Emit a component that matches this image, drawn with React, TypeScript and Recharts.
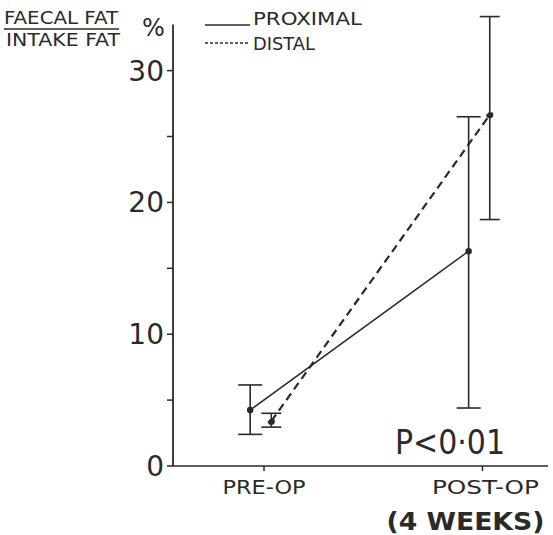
import { LineChart, Line, XAxis, YAxis, ErrorBar, ReferenceLine } from 'recharts';

const stages = ['PRE-OP', 'POST-OP'];
const stageNotes = ['', '(4 WEEKS)'];
const stagePos = [1, 4];

const proximalMean = [4.25, 16.3];
const proximalLow = [2.4, 4.4];
const proximalHigh = [6.15, 26.5];

const distalMean = [3.4, 26.65];
const distalLow = [2.95, 18.7];
const distalHigh = [4.0, 34.1];

const yTicks = [0, 5, 10, 15, 20, 25, 30];

const INK = '#2a2a2a';
const FONT = '"DejaVu Sans", "Liberation Sans", sans-serif';

function buildSeries(mean: number[], low: number[], high: number[], offset: number) {
  return stages.map((s, i) => ({
    stage: s,
    x: stagePos[i] + offset,
    value: mean[i],
    err: [mean[i] - low[i], high[i] - mean[i]],
  }));
}

const proximalData = buildSeries(proximalMean, proximalLow, proximalHigh, -0.19);
const distalData = buildSeries(distalMean, distalLow, distalHigh, 0.1);

function StageTick(props: any) {
  const { x, y, payload } = props;
  const i = stagePos.indexOf(payload.value);
  if (i < 0) return null;
  const w = stages[i].length > 6 ? 107 : 83;
  return (
    <g fontFamily={FONT} fill={INK}>
      <text x={x + (i ? 3 : 0)} y={y + 21} textAnchor="middle" fontSize={19} textLength={w} lengthAdjust="spacingAndGlyphs">
        {stages[i]}
      </text>
      {stageNotes[i] && (
        <text x={x - 17} y={y + 57} textAnchor="middle" fontSize={25} fontWeight="bold" textLength={158} lengthAdjust="spacingAndGlyphs">
          {stageNotes[i]}
        </text>
      )}
    </g>
  );
}

export default function App() {
  return (
    <div style={{ position: 'absolute', left: 0, top: 0, width: 553, height: 535, background: '#fff' }}>
      <LineChart width={553} height={535} margin={{ top: 10, right: 5, bottom: 0, left: 0 }}>
        <XAxis
          type="number"
          dataKey="x"
          domain={[-0.25, 4.9]}
          ticks={stagePos}
          tick={<StageTick />}
          tickSize={5}
          height={69}
          stroke={INK}
          strokeWidth={1.5}
          allowDataOverflow
        />
        <YAxis
          type="number"
          domain={[0, 34.6]}
          ticks={yTicks}
          width={173}
          axisLine={false}
          tickSize={6}
          tickMargin={3}
          tickLine={{ stroke: INK, strokeWidth: 1.5 }}
          tickFormatter={(v: number) => (v % 10 === 0 ? String(v) : '')}
          tick={{ fontFamily: FONT, fontSize: 28, fill: INK }}
          allowDataOverflow
        />
        <ReferenceLine
          segment={[{ x: -0.25, y: 0 }, { x: -0.25, y: 33.5 }]}
          stroke={INK}
          strokeWidth={1.8}
          ifOverflow="visible"
        />
        <Line
          data={proximalData}
          dataKey="value"
          stroke={INK}
          strokeWidth={1.5}
          dot={{ r: 2.5, fill: INK, stroke: INK }}
          isAnimationActive={false}
        >
          <ErrorBar dataKey="err" direction="y" width={12} stroke={INK} strokeWidth={1.6} />
        </Line>
        <Line
          data={distalData}
          dataKey="value"
          stroke={INK}
          strokeWidth={2.2}
          strokeDasharray="8 5"
          dot={{ r: 2.5, fill: INK, stroke: INK }}
          isAnimationActive={false}
        >
          <ErrorBar dataKey="err" direction="y" width={10} stroke={INK} strokeWidth={1.6} />
        </Line>
      </LineChart>
      <svg width={553} height={535} style={{ position: 'absolute', left: 0, top: 0, pointerEvents: 'none' }}>
        <g fontFamily={FONT} fill={INK}>
          <text x={4} y={24} fontSize={17} textLength={114} lengthAdjust="spacingAndGlyphs">FAECAL FAT</text>
          <line x1={4} y1={29} x2={119} y2={29} stroke={INK} strokeWidth={1.5} />
          <text x={6} y={46} fontSize={17} textLength={114} lengthAdjust="spacingAndGlyphs">INTAKE FAT</text>
          <text x={142} y={36} fontSize={24}>%</text>
          <line x1={205} y1={25} x2={250} y2={25} stroke={INK} strokeWidth={1.5} />
          <text x={253} y={25} fontSize={17} textLength={109} lengthAdjust="spacingAndGlyphs">PROXIMAL</text>
          <line x1={205} y1={43} x2={250} y2={43} stroke={INK} strokeWidth={1.5} strokeDasharray="3 2" />
          <text x={253} y={50} fontSize={17} textLength={62} lengthAdjust="spacingAndGlyphs">DISTAL</text>
          <text x={395} y={454} fontSize={33} textLength={110} lengthAdjust="spacingAndGlyphs">P&lt;0·01</text>
        </g>
      </svg>
    </div>
  );
}
